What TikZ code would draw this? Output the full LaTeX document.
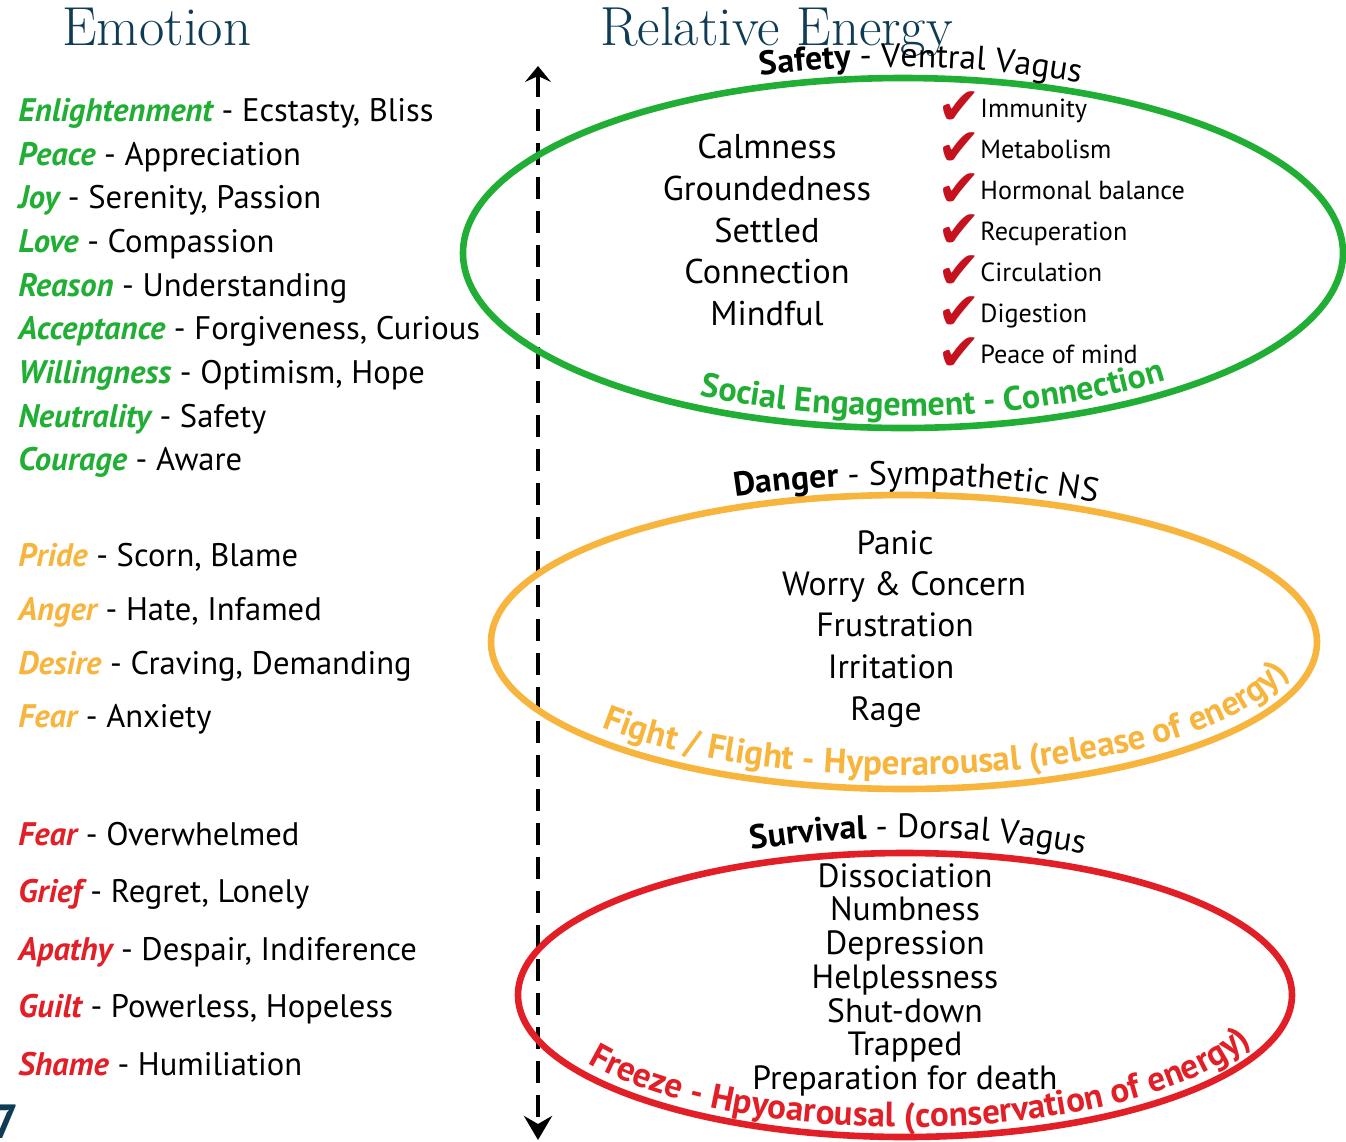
\documentclass[tikz,border=0pt]{standalone}
\usepackage{fontspec}
\setsansfont{PT Sans}
\newfontfamily\symfont{DejaVu Sans}
\usetikzlibrary{arrows.meta,decorations.text,calc}
\definecolor{ttl}{RGB}{14,60,85}
\definecolor{sgreen}{RGB}{32,174,52}
\definecolor{sorange}{RGB}{247,181,62}
\definecolor{sred}{RGB}{226,30,38}
\definecolor{chk}{RGB}{198,18,30}
\begin{document}
\begin{tikzpicture}[x=0.5pt,y=0.5pt,
  title/.style={font=\rmfamily\fontsize{27.5}{32}\selectfont, text=ttl, anchor=base west, inner sep=0},
  emo/.style={font=\sffamily\fontsize{16.3}{19}\selectfont, anchor=base west, inner sep=0},
  inner/.style={font=\sffamily\fontsize{16.8}{19}\selectfont, anchor=base, inner sep=0},
  innerg/.style={font=\sffamily\fontsize{17.2}{20}\selectfont, anchor=base, inner sep=0},
  benefit/.style={font=\sffamily\fontsize{13.1}{15}\selectfont, anchor=base west, inner sep=0},
  tick/.style={font=\symfont\fontsize{26}{28}\selectfont, text=chk, anchor=base, inner sep=0},
  ring/.style={line width=3.3pt},
]
\useasboundingbox (0,0) rectangle (1346,-1142);
\fill[white] (0,0) rectangle (1346,-1142);
% titles
\node[title] (t1) at (62,-45) {Emotion};
\node[title] (t2) at (600,-45) {Relative Energy};
% left list
\node[emo] (e1) at (18,-121) {\textcolor{sgreen}{\bfseries\itshape Enlightenment} - Ecstasty, Bliss};
\node[emo] (e2) at (18,-165) {\textcolor{sgreen}{\bfseries\itshape Peace} - Appreciation};
\node[emo] (e3) at (18,-208) {\textcolor{sgreen}{\bfseries\itshape Joy} - Serenity, Passion};
\node[emo] (e4) at (18,-252) {\textcolor{sgreen}{\bfseries\itshape Love} - Compassion};
\node[emo] (e5) at (18,-296) {\textcolor{sgreen}{\bfseries\itshape Reason} - Understanding};
\node[emo] (e6) at (18,-339) {\textcolor{sgreen}{\bfseries\itshape Acceptance} - Forgiveness, Curious};
\node[emo] (e7) at (18,-383) {\textcolor{sgreen}{\bfseries\itshape Willingness} - Optimism, Hope};
\node[emo] (e8) at (18,-427) {\textcolor{sgreen}{\bfseries\itshape Neutrality} - Safety};
\node[emo] (e9) at (18,-470) {\textcolor{sgreen}{\bfseries\itshape Courage} - Aware};
\node[emo] (o1) at (18,-566) {\textcolor{sorange}{\bfseries\itshape Pride} - Scorn, Blame};
\node[emo] (o2) at (18,-620) {\textcolor{sorange}{\bfseries\itshape Anger} - Hate, Infamed};
\node[emo] (o3) at (18,-674) {\textcolor{sorange}{\bfseries\itshape Desire} - Craving, Demanding};
\node[emo] (o4) at (18,-727) {\textcolor{sorange}{\bfseries\itshape Fear} - Anxiety};
\node[emo] (r1) at (18,-845) {\textcolor{sred}{\bfseries\itshape Fear} - Overwhelmed};
\node[emo] (r2) at (18,-902) {\textcolor{sred}{\bfseries\itshape Grief} - Regret, Lonely};
\node[emo] (r3) at (18,-960) {\textcolor{sred}{\bfseries\itshape Apathy} - Despair, Indiference};
\node[emo] (r4) at (18,-1017) {\textcolor{sred}{\bfseries\itshape Guilt} - Powerless, Hopeless};
\node[emo] (r5) at (18,-1075) {\textcolor{sred}{\bfseries\itshape Shame} - Humiliation};
% page number (cut off at the edge, as in the source)
\node[font=\sffamily\bfseries\fontsize{24}{28}\selectfont, text=ttl, anchor=north west, inner sep=0] (pg) at (-9,-1104) {7};
% energy axis
\coordinate (atop) at (538,-66);
\coordinate (abot) at (538,-1140);
\draw[line width=2.2pt, dash pattern=on 11pt off 6pt,
  {Stealth[length=8pt,width=13pt,inset=3pt]}-{Stealth[length=12pt,width=14pt,inset=4pt]}] (atop) -- (abot);
% ellipses
\coordinate (cg) at (903,-253);
\coordinate (co) at (904,-642);
\coordinate (cr) at (905,-995);
\draw[ring, sgreen] (cg) ellipse [x radius=440, y radius=175];
\draw[ring, sorange] (co) ellipse [x radius=413, y radius=147];
\draw[ring, sred] (cr) ellipse [x radius=387, y radius=142];
% safety contents
\node[innerg] (g1) at (767,-158) {Calmness};
\node[innerg] (g2) at (767,-200) {Groundedness};
\node[innerg] (g3) at (767,-242) {Settled};
\node[innerg] (g4) at (767,-283) {Connection};
\node[innerg] (g5) at (767,-325) {Mindful};
\foreach \txt [count=\i] in {Immunity, Metabolism, Hormonal balance, Recuperation, Circulation, Digestion, Peace of mind} {
  \node[benefit] (b\i) at (980,{-117-41*(\i-1)}) {\txt};
  \node[tick] (k\i) at (959,{-124-41*(\i-1)}) {✔};
}
% danger contents
\node[inner] (d1) at (895,-554) {Panic};
\node[inner] (d2) at (904,-595) {Worry \& Concern};
\node[inner] (d3) at (895,-636) {Frustration};
\node[inner] (d4) at (891,-678) {Irritation};
\node[inner] (d5) at (886,-720) {Rage};
% survival contents
\node[inner] (s1) at (905,-887) {Dissociation};
\node[inner] (s2) at (905,-920) {Numbness};
\node[inner] (s3) at (905,-954) {Depression};
\node[inner] (s4) at (905,-988) {Helplessness};
\node[inner] (s5) at (905,-1022) {Shut-down};
\node[inner] (s6) at (905,-1055) {Trapped};
\node[inner] (s7) at (905,-1089) {Preparation for death};
% headers on arcs
\path[decorate, decoration={text along path, text align=left,
  text={|\sffamily\bfseries\fontsize{16.9}{20}\selectfont|Safety|\sffamily\mdseries\fontsize{16.9}{20}\selectfont| - Ventral Vagus}}]
  ($(895,-257)+(107:460 and 190)$) arc[start angle=107, end angle=30, x radius=460, y radius=190];
\path[decorate, decoration={text along path, text align=left,
  text={|\sffamily\bfseries\fontsize{16.9}{20}\selectfont|Danger|\sffamily\mdseries\fontsize{16.9}{20}\selectfont| - Sympathetic NS}}]
  ($(900,-650)+(112:440 and 165)$) arc[start angle=112, end angle=30, x radius=440, y radius=165];
\path[decorate, decoration={text along path, text align=left,
  text={|\sffamily\bfseries\fontsize{16.9}{20}\selectfont|Survival|\sffamily\mdseries\fontsize{16.9}{20}\selectfont| - Dorsal Vagus}}]
  ($(905,-1000)+(112:410 and 162)$) arc[start angle=112, end angle=30, x radius=410, y radius=162];
% bottom labels on arcs
\path[decorate, decoration={text along path, text align=left,
  text={|\sffamily\bfseries\fontsize{17}{20}\selectfont\color{sgreen}|Social Engagement - Connection}}]
  ($(cg)+(241:420 and 163)$) arc[start angle=241, end angle=360, x radius=420, y radius=163];
\path[decorate, decoration={text along path, text align=left,
  text={|\sffamily\bfseries\fontsize{17.5}{20}\selectfont\color{sorange}|Fight / Flight - Hyperarousal (release of energy)}}]
  ($(co)+(220:395 and 133)$) arc[start angle=220, end angle=385, x radius=395, y radius=133];
\path[decorate, decoration={text along path, text align=left,
  text={|\sffamily\bfseries\fontsize{17.5}{20}\selectfont\color{sred}|Freeze - Hpyoarousal (conservation of energy)}}]
  ($(cr)+(211:370 and 132)$) arc[start angle=211, end angle=385, x radius=370, y radius=132];
\end{tikzpicture}
\end{document}
